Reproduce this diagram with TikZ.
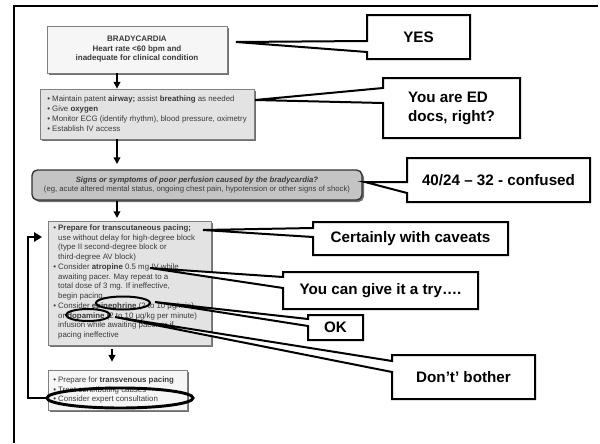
\documentclass[tikz,border=0pt]{standalone}
\usepackage{fontspec}
\setmainfont{Liberation Sans}
\usetikzlibrary{arrows.meta, positioning, shapes.geometric, shadows}
\definecolor{PaperWhite}{HTML}{F6F6F6}
\definecolor{PanelGray}{HTML}{E3E3E3}
\definecolor{QuestionGray}{HTML}{C4C4C4}
\definecolor{PrintGray}{HTML}{3A3A3A}

% speech box: name, left, top, right, bottom, wedge top, wedge bottom, tip, text
\newcommand{\speechbox}[9]{%
  \filldraw[calloutline] (#2,#3) -- (#4,#3) -- (#4,#5) -- (#2,#5) -- (#2,#7) -- (#8) -- (#2,#6) -- cycle;
  \node[callouttext] (#1) at ({(#2+#4)/2},{(#3+#5)/2}) {#9};
}

\begin{document}
\begin{tikzpicture}[x=0.75pt, y=-0.75pt,
    algobox/.style={draw=black!50, line width=0.6pt, inner sep=0pt,
      drop shadow={shadow xshift=1.5pt, shadow yshift=-1.5pt, fill=black!70, opacity=0.8}},
    algotext/.style={inner sep=0pt, align=left, text=PrintGray, font=\fontsize{5.9}{7.3}\selectfont},
    flow/.style={-{Triangle[width=5pt,length=5pt]}, line width=1.1pt},
    looparrow/.style={-{Triangle[width=7pt,length=6pt]}, line width=2.2pt},
    calloutline/.style={draw=black, fill=white, line width=1.5pt, line join=miter},
    callouttext/.style={inner sep=0pt, align=center, font=\fontsize{11.4}{14}\selectfont\bfseries},
    ringmark/.style={draw=black, ellipse, line width=1.5pt, inner sep=0pt}]
  \useasboundingbox (0,0) rectangle (600,443);
  % slide frame
  \draw[line width=1.5pt] (14,443) -- (14,6) -- (598,6);

  % algorithm boxes
  \coordinate (axis) at (117,0);
  \coordinate (lowaxis) at (112,0);
  \node[algobox, fill=PaperWhite, minimum width=135pt, minimum height=35.25pt, align=center,
    text=PrintGray, font=\fontsize{6}{7.1}\selectfont\bfseries] (brady) at (137,49.5)
    {BRADYCARDIA\\Heart rate <60 bpm and\\inadequate for clinical condition};
  \node[algobox, fill=PanelGray, minimum width=160.5pt, minimum height=37.5pt] (support) at (147,114) {};
  \node[algotext, anchor=west, font=\fontsize{5.9}{7.5}\selectfont] (supporttext) at (47,114)
    {• Maintain patent \textbf{airway;} assist \textbf{breathing} as needed\\
     • Give \textbf{oxygen}\\
     • Monitor ECG (identify rhythm), blood pressure, oximetry\\
     • Establish IV access};
  \node[algobox, fill=QuestionGray, draw=black!80, line width=1pt, rounded corners=4pt,
    minimum width=247.5pt, minimum height=22.5pt, align=center, text=PrintGray,
    font=\fontsize{5.8}{7}\selectfont] (perfusion) at (197,185)
    {\textbf{\textit{Signs or symptoms of poor perfusion caused by the bradycardia?}}\\
     (eg, acute altered mental status, ongoing chest pain, hypotension or other signs of shock)};
  \node[algobox, fill=PanelGray, minimum width=122.25pt, minimum height=93pt] (pacing) at (129.5,283) {};
  \node[algotext, anchor=west] (pacingtext) at (53,282)
    {• \textbf{Prepare for transcutaneous pacing;}\\
     \hphantom{• }use without delay for high-degree block\\
     \hphantom{• }(type II second-degree block or\\
     \hphantom{• }third-degree AV block)\\
     • Consider \textbf{atropine} 0.5 mg IV while\\
     \hphantom{• }awaiting pacer. May repeat to a\\
     \hphantom{• }total dose of 3 mg. If ineffective,\\
     \hphantom{• }begin pacing.\\
     • Consider \textbf{epinephrine} (2 to 10 μg/min)\\
     \hphantom{• }or \textbf{dopamine} (2 to 10 μg/kg per minute)\\
     \hphantom{• }infusion while awaiting pacer or if\\
     \hphantom{• }pacing ineffective};
  \node[algobox, fill=PaperWhite, minimum width=104.25pt, minimum height=30pt] (transvenous) at (117.5,390) {};
  \node[algotext, anchor=west] (transvenoustext) at (53,390)
    {• Prepare for \textbf{transvenous pacing}\\
     • Treat contributing causes\\
     • Consider expert consultation};

  % flow arrows
  \draw[flow] (brady.south -| axis) -- (support.north -| axis);
  \draw[flow] (support.south -| axis) -- ([yshift=4pt]perfusion.north -| axis);
  \draw[flow] (perfusion.south -| axis) -- ([yshift=2pt]pacing.north -| axis);
  \draw[flow] ([yshift=-3pt]pacing.south -| lowaxis) -- ([yshift=6pt]transvenous.north -| lowaxis);

  % hand-drawn marks
  \node[ringmark, minimum width=40.5pt, minimum height=9.75pt] (epiring) at (123,303) {};
  \node[ringmark, minimum width=33pt, minimum height=9pt] (doparing) at (88,315) {};
  \node[ringmark, line width=2.2pt, minimum width=109.5pt, minimum height=15pt] (consultring) at (120,398) {};
  \coordinate (reentry) at (42,237);
  \draw[looparrow] (consultring.west) -- (28,398) |- (reentry);

  % callouts
  \coordinate (yestip) at (236,42);
  \coordinate (edtip) at (255,100);
  \coordinate (bptip) at (365,182);
  \coordinate (caveattip) at (203,230);
  \coordinate (trytip) at (150,268);
  \coordinate (oktip) at (155,302);
  \coordinate (bothertip) at (115,317);
  \speechbox{yes}{367}{15}{470}{59}{41}{52}{yestip}{YES}
  \speechbox{eddocs}{383}{78}{520}{138}{88}{103}{edtip}{\begin{tabular}{@{}l@{}}You are ED\\docs, right?\end{tabular}}
  \speechbox{vitals}{407}{158}{590}{202}{182}{193}{bptip}{40/24 – 32 - confused}
  \speechbox{caveats}{313}{222}{508}{255}{228}{237}{caveattip}{Certainly with caveats}
  \speechbox{try}{283}{272}{478}{309}{277}{288}{trytip}{You can give it a try….}
  \speechbox{ok}{308}{315}{363}{340}{319}{326}{oktip}{OK}
  \speechbox{bother}{392}{355}{535}{399}{361}{372}{bothertip}{Don’t’ bother}
\end{tikzpicture}
\end{document}
